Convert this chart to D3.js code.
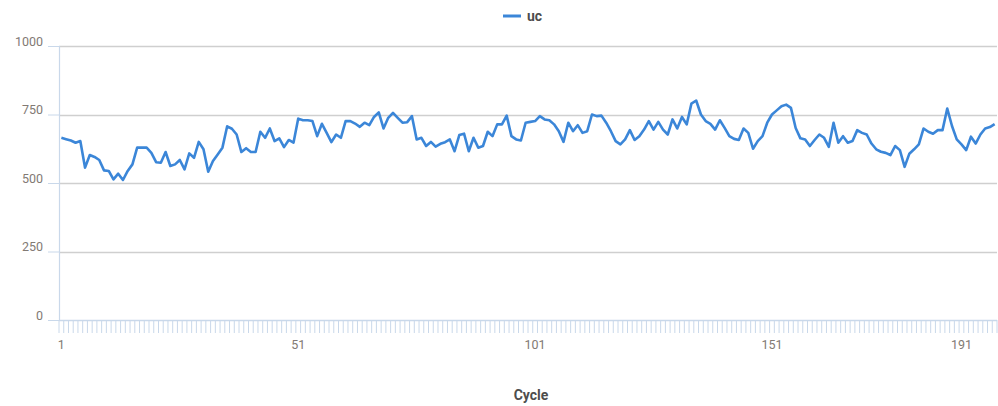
<!DOCTYPE html>
<html>
<head>
<meta charset="utf-8">
<script src="https://cdn.jsdelivr.net/npm/d3@7"></script>
<style>
  html, body { margin: 0; padding: 0; background: #fff; }
  svg { display: block; }
  text { font-family: Roboto, "Open Sans", sans-serif; }
</style>
</head>
<body>
<svg id="chart" width="998" height="406"></svg>
<script>
// Series "uc" per cycle
const seriesName = "uc";
const ucValues = [
  665, 660, 655, 647, 653, 556, 602, 595, 584, 546,
  544, 513, 534, 511, 544, 568, 629, 629, 629, 610,
  576, 574, 613, 562, 568, 584, 550, 608, 592, 650,
  623, 541, 580, 604, 629, 707, 698, 677, 613, 627,
  613, 613, 687, 665, 699, 653, 663, 631, 657, 647,
  735, 729, 729, 726, 671, 716, 683, 649, 677, 665,
  726, 726, 717, 705, 720, 711, 741, 758, 699, 738,
  756, 738, 720, 722, 744, 659, 665, 635, 650, 633,
  643, 649, 659, 616, 675, 680, 616, 665, 629, 635,
  687, 671, 714, 714, 746, 671, 659, 655, 720, 723,
  726, 744, 732, 729, 714, 689, 650, 720, 689, 711,
  683, 689, 750, 744, 746, 720, 689, 653, 641, 659,
  693, 657, 671, 695, 726, 695, 723, 695, 677, 732,
  699, 741, 714, 790, 801, 750, 726, 716, 695, 729,
  701, 671, 661, 657, 699, 683, 625, 653, 671, 720,
  750, 765, 780, 786, 774, 701, 663, 659, 635, 657,
  677, 665, 632, 720, 647, 671, 647, 653, 693, 683,
  677, 644, 623, 614, 610, 602, 635, 620, 559, 607,
  623, 641, 699, 687, 680, 693, 693, 772, 708, 659,
  641, 620, 669, 644, 677, 699, 704, 715
];
// Cycle numbers as categories
const cycles = ucValues.map((_, i) => i + 1);
// Category labels shown on the x axis
const xTickLabels = [1, 51, 101, 151, 191];
// Value axis ticks
const yTicks = [0, 250, 500, 750, 1000];
const xTitle = "Cycle";

const svg = d3.select("#chart");
const margin = { left: 59, right: 1, top: 46, bottom: 86 };
const W = 998, H = 406;
const plotRight = W - margin.right;
const plotBottom = H - margin.bottom;

const x = d3.scaleBand().domain(cycles).range([margin.left, plotRight]).paddingInner(0).paddingOuter(0);
const y = d3.scaleLinear().domain([0, 1000]).range([plotBottom, margin.top]);

const axisBlue = "#c9d8ea";
const gridGrey = "#cfcfcf";
const labelColor = "#827a74";

// Horizontal gridlines (except zero, which is the axis)
svg.append("g")
  .selectAll("line")
  .data(yTicks.filter(d => d > 0))
  .join("line")
  .attr("x1", margin.left).attr("x2", plotRight)
  .attr("y1", d => Math.round(y(d)) + 0.5).attr("y2", d => Math.round(y(d)) + 0.5)
  .attr("stroke", gridGrey).attr("stroke-width", 1.4);

// Y axis
const yAxis = d3.axisLeft(y).tickValues(yTicks).tickFormat(d3.format("d")).tickSize(11).tickPadding(5);
const gy = svg.append("g")
  .attr("transform", `translate(${margin.left},0)`)
  .call(yAxis);
gy.select(".domain").attr("stroke", axisBlue).attr("stroke-width", 1.2);
gy.selectAll(".tick line").attr("stroke", axisBlue);
gy.selectAll(".tick text")
  .attr("fill", labelColor).attr("font-size", 12.5).attr("dy", "-0.05em");

// X axis: category ticks at every band boundary
const boundaries = cycles.map(c => x(c)).concat([plotRight]);
const gx = svg.append("g");
gx.append("line")
  .attr("x1", margin.left).attr("x2", plotRight)
  .attr("y1", plotBottom + 0.5).attr("y2", plotBottom + 0.5)
  .attr("stroke", axisBlue).attr("stroke-width", 1.6);
gx.selectAll("line.tk")
  .data(boundaries)
  .join("line")
  .attr("class", "tk")
  .attr("x1", d => d).attr("x2", d => d)
  .attr("y1", plotBottom).attr("y2", plotBottom + 13)
  .attr("stroke", axisBlue).attr("stroke-width", 1);
gx.selectAll("text")
  .data(xTickLabels)
  .join("text")
  .attr("x", d => x(d) + x.bandwidth() / 2)
  .attr("y", plotBottom + 29)
  .attr("text-anchor", "middle")
  .attr("fill", labelColor).attr("font-size", 12.5)
  .text(d => d);

// Axis title
svg.append("text")
  .attr("x", (margin.left + plotRight) / 2 + 3)
  .attr("y", 400)
  .attr("text-anchor", "middle")
  .attr("fill", "#4d4d4d").attr("font-size", 14).attr("font-weight", "bold")
  .text(xTitle);

// The series line
const lineColor = "#3b86d8";
const line = d3.line()
  .x((d, i) => x(cycles[i]) + x.bandwidth() / 2)
  .y(d => y(d));
svg.append("path")
  .datum(ucValues)
  .attr("fill", "none")
  .attr("stroke", lineColor)
  .attr("stroke-width", 2.6)
  .attr("stroke-linejoin", "round")
  .attr("d", line);

// Legend
const lg = svg.append("g").attr("transform", "translate(503,16)");
lg.append("line").attr("x1", 0).attr("x2", 18).attr("y1", 0).attr("y2", 0)
  .attr("stroke", lineColor).attr("stroke-width", 3);
lg.append("text").attr("x", 24).attr("y", 5)
  .attr("fill", "#4d4d4d").attr("font-size", 14).attr("font-weight", "bold")
  .text(seriesName);
</script>
</body>
</html>
